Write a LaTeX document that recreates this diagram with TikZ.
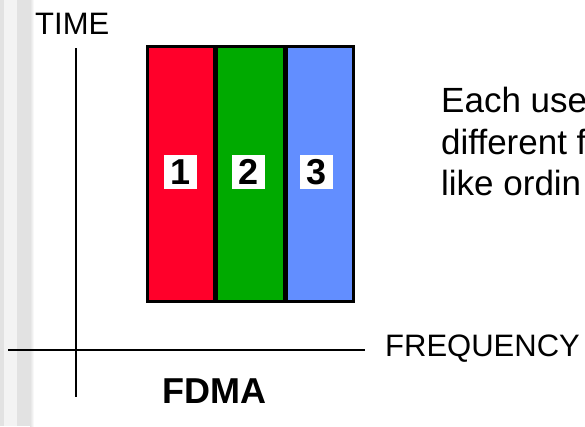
\documentclass[tikz,border=0pt]{standalone}
\usepackage{fontspec}
\setmainfont{Liberation Sans}
\begin{document}
\begin{tikzpicture}[x=1pt,y=-1pt,
  axis/.style={line width=2.5pt,black},
  band/.style={draw=black,line width=2.5pt,minimum width=67pt,minimum height=255pt,inner sep=0pt,outer sep=0pt},
  userbox/.style={fill=white,minimum width=33pt,minimum height=34pt,inner sep=0pt,font=\fontsize{36}{36}\selectfont\bfseries},
  label/.style={inner sep=0pt,anchor=base west,font=\fontsize{31}{31}\selectfont},
  body/.style={inner sep=0pt,anchor=base west,font=\fontsize{35}{35}\selectfont}
]
\definecolor{bandred}{RGB}{255,0,42}
\definecolor{bandgreen}{RGB}{0,170,0}
\definecolor{bandblue}{RGB}{98,142,255}
\definecolor{stripe}{RGB}{226,226,226}
\definecolor{stripelight}{RGB}{243,243,243}
% page and decorative stripes on the left edge
\useasboundingbox (0,0) rectangle (585,426);
\fill[white] (0,0) rectangle (585,426);
\fill[stripe] (0,0) rectangle (4,426);
\fill[stripelight] (4,0) rectangle (17,426);
\fill[stripe] (17,0) rectangle (30,426);
\shade[left color=stripe,right color=white] (30,0) rectangle (34,426);
% axes
\coordinate (tTop) at (76,48);
\coordinate (tBot) at (76,397);
\coordinate (fLeft) at (8,350);
\coordinate (fRight) at (365,350);
\draw[axis] (tTop) -- (tBot);
\draw[axis] (fLeft) -- (fRight);
\node[label] (time) at (35,34) {TIME};
\node[label] (freq) at (385,356) {FREQUENCY};
\node[inner sep=0pt,anchor=base west,font=\fontsize{36}{36}\selectfont\bfseries] (fdma) at (162,403) {FDMA};
% frequency bands, one per user
\node[band,fill=bandred] (b1) at (181,174) {};
\node[band,fill=bandgreen] (b2) at (250.5,174) {};
\node[band,fill=bandblue] (b3) at (320,174) {};
\node[userbox] (u1) at (180.5,172) {1};
\node[userbox] (u2) at (248.5,172) {2};
\node[userbox] (u3) at (316.5,172) {3};
% explanatory text, running off the right edge
\begin{scope}
\clip (0,0) rectangle (585,426);
\node[body] (t1) at (441,112) {Each use};
\node[body] (t2) at (441,154) {different f};
\node[body] (t3) at (441,195) {like ordin};
\end{scope}
\end{tikzpicture}
\end{document}
